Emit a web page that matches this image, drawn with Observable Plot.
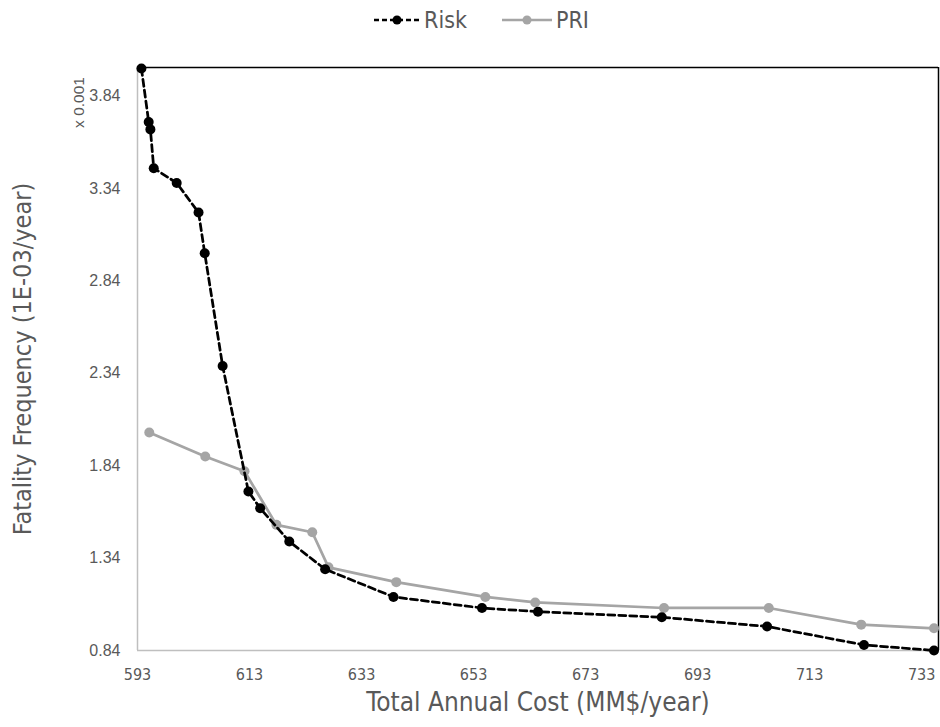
<!DOCTYPE html>
<html>
<head>
<meta charset="utf-8">
<script src="https://cdn.jsdelivr.net/npm/d3@7"></script>
<script src="https://cdn.jsdelivr.net/npm/@observablehq/plot@0.6"></script>
<style>
  body { margin: 0; background: #fff; font-family: "Liberation Sans Narrow", "DejaVu Sans Condensed", "Open Sans", sans-serif; }
  #legend { height: 40px; display: flex; align-items: center; justify-content: center; padding-left: 22px; color: #595959; font-size: 23px; }
  #legend .item { display: flex; align-items: center; margin: 0 17px; }
  #legend svg { margin-right: 3px; }
</style>
</head>
<body>
<div id="legend">
  <span class="item"><svg width="48" height="14"><line x1="1" y1="7" x2="47" y2="7" stroke="#000" stroke-width="2.5" stroke-dasharray="5,3"/><circle cx="24" cy="7" r="4.5" fill="#000"/></svg>Risk</span>
  <span class="item"><svg width="52" height="14"><line x1="1" y1="7" x2="51" y2="7" stroke="#a5a5a5" stroke-width="2.5"/><circle cx="26" cy="7" r="4.5" fill="#a5a5a5"/></svg>PRI</span>
</div>
<div id="chart"></div>
<script>
const riskCost = [593.7, 595.0, 595.3, 595.9, 600.0, 603.9, 605.0, 608.2, 612.8, 614.9, 620.1, 626.5, 638.7, 654.5, 664.5, 686.6, 705.4, 722.7, 735.2];
const riskFreq = [3.99, 3.70, 3.66, 3.45, 3.37, 3.21, 2.99, 2.38, 1.70, 1.61, 1.43, 1.28, 1.13, 1.07, 1.05, 1.02, 0.97, 0.87, 0.84];
const priCost = [595.1, 605.1, 612.1, 617.8, 624.2, 627.1, 639.2, 655.1, 664.0, 687.0, 705.7, 722.2, 735.2];
const priFreq = [2.02, 1.89, 1.81, 1.52, 1.48, 1.29, 1.21, 1.13, 1.10, 1.07, 1.07, 0.98, 0.96];
const xTicks = [593, 613, 633, 653, 673, 693, 713, 733];
const yTicks = [0.84, 1.34, 1.84, 2.34, 2.84, 3.34, 3.84];
const xTitle = "Total Annual Cost (MM$/year)";
const yTitle = "Fatality Frequency (1E-03/year)";
const yUnit = "x 0.001";

const risk = riskCost.map((c, i) => ({cost: c, freq: riskFreq[i]}));
const pri = priCost.map((c, i) => ({cost: c, freq: priFreq[i]}));
const xDomain = [593, 736];
const yDomain = [0.84, 3.995];

const chart = Plot.plot({
  width: 940,
  height: 687,
  marginLeft: 137,
  marginRight: 2,
  marginTop: 27,
  marginBottom: 77,
  style: {fontFamily: '"Liberation Sans Narrow", "DejaVu Sans Condensed", sans-serif', color: "#595959"},
  x: {domain: xDomain},
  y: {domain: yDomain},
  marks: [
    Plot.ruleX([xDomain[0]], {stroke: "#bfbfbf", strokeWidth: 1.5}),
    Plot.ruleY([yDomain[0]], {stroke: "#bfbfbf", strokeWidth: 1.5}),
    Plot.ruleX([xDomain[1]], {stroke: "#000", strokeWidth: 1.5}),
    Plot.ruleY([yDomain[1]], {stroke: "#000", strokeWidth: 1.5}),
    Plot.axisX({ticks: xTicks, tickSize: 0, tickPadding: 18, fontSize: 16, label: null, fill: "#595959"}),
    Plot.axisY({ticks: yTicks, tickSize: 0, tickPadding: 17, fontSize: 16, label: null, fill: "#595959", tickFormat: d => d.toFixed(2), fontFamily: '"Liberation Sans", Arial, sans-serif'}),
    Plot.line(pri, {x: "cost", y: "freq", stroke: "#a5a5a5", strokeWidth: 2.75}),
    Plot.dot(pri, {x: "cost", y: "freq", fill: "#a5a5a5", r: 5}),
    Plot.line(risk, {x: "cost", y: "freq", stroke: "#000", strokeWidth: 2.75, strokeDasharray: "7,4"}),
    Plot.dot(risk, {x: "cost", y: "freq", fill: "#000", r: 5}),
    Plot.text([xTitle], {frameAnchor: "bottom", dy: 60, fontSize: 26, fill: "#595959", text: d => d}),
    Plot.text([yTitle], {frameAnchor: "left", dx: -115, rotate: -90, fontSize: 25, fill: "#595959", textAnchor: "middle", text: d => d}),
    Plot.text([yUnit], {frameAnchor: "top-left", dx: -65, dy: 35, rotate: -90, fontSize: 15.5, fill: "#595959", textAnchor: "middle", text: d => d, fontFamily: '"Liberation Sans", Arial, sans-serif'})
  ]
});
document.getElementById("chart").appendChild(chart);
</script>
</body>
</html>
